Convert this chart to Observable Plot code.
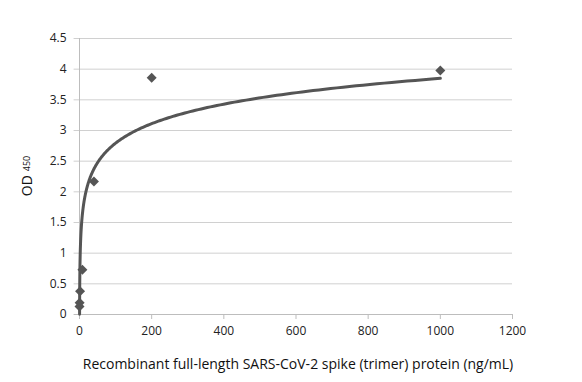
<!DOCTYPE html>
<html>
<head>
<meta charset="utf-8">
<script src="https://cdn.jsdelivr.net/npm/d3@7"></script>
<script src="https://cdn.jsdelivr.net/npm/@observablehq/plot@0.6"></script>
<style>
  html, body { margin: 0; padding: 0; background: #fff; }
  #chart svg { display: block; }
</style>
</head>
<body>
<div id="chart"></div>
<script>
// Concentrations (ng/mL) and measured OD450
const concentration = [1000, 200, 40, 8, 1.6, 0.32, 0.064];
const od450 = [3.98, 3.86, 2.17, 0.73, 0.38, 0.19, 0.13];
const xTicks = [0, 200, 400, 600, 800, 1000, 1200];
const yTicks = [0, 0.5, 1, 1.5, 2, 2.5, 3, 3.5, 4, 4.5];
const xLabel = "Recombinant full-length SARS-CoV-2 spike (trimer) protein (ng/mL)";

const points = concentration.map((c, i) => ({x: c, y: od450[i]}));

// Logarithmic trendline fitted (least squares) to the data, as in the source
const lx = points.map(p => Math.log(p.x));
const mx = d3.mean(lx), my = d3.mean(od450);
const slope = d3.sum(lx, (v, i) => (v - mx) * (od450[i] - my)) / d3.sum(lx, v => (v - mx) ** 2);
const intercept = my - slope * mx;
const [xmin, xmax] = d3.extent(concentration);
const trend = d3.range(0, 401).map(i => {
  const x = Math.exp(Math.log(xmin) + (Math.log(xmax) - Math.log(xmin)) * i / 400);
  return {x, y: slope * Math.log(x) + intercept};
}).filter(d => d.y >= 0);

const font = "'Open Sans', sans-serif";

const plot = Plot.plot({
  width: 582,
  height: 382,
  marginLeft: 79,
  marginRight: 70,
  marginTop: 38,
  marginBottom: 68,
  style: {fontFamily: font, fontSize: "12px", color: "#000", background: "#fff"},
  x: {domain: [0, 1200], ticks: xTicks, label: null},
  y: {domain: [0, 4.5], ticks: yTicks, label: null},
  marks: [
    Plot.ruleY(yTicks.filter(t => t > 0), {x1: -15, x2: 1200, stroke: "#d0d0d0", strokeWidth: 1, clip: false}),
    Plot.ruleY([0], {x1: -15, x2: 1200, stroke: "#bdbdbd", strokeWidth: 1, clip: false}),
    Plot.ruleX([0], {stroke: "#bdbdbd", strokeWidth: 1}),
    Plot.axisX({ticks: xTicks, tickSize: 5, tickPadding: 7, stroke: "#bdbdbd", fill: "#222", fontSize: 12, tickFormat: d => String(d)}),
    Plot.axisY({ticks: yTicks, tickSize: 0, tickPadding: 13, fill: "#222", fontSize: 12, tickFormat: d => String(d)}),
    Plot.line(trend, {x: "x", y: "y", stroke: "#555", strokeWidth: 3, curve: "linear"}),
    Plot.dot(points, {x: "x", y: "y", symbol: "diamond2", r: 4.5, fill: "#555", stroke: "none"}),
    Plot.text([xLabel], {frameAnchor: "bottom", dx: 2, dy: 54, fontSize: 14, fill: "#111", fontFamily: font})
  ]
});

// y-axis label with subscript
const svg = d3.select(plot);
const t = svg.append("text")
  .attr("transform", "translate(32,176) rotate(-90)")
  .attr("text-anchor", "middle")
  .attr("font-family", font)
  .attr("fill", "#111");
t.append("tspan").attr("font-size", 14).text("OD");
t.append("tspan").attr("font-size", 9).attr("dx", 4).attr("dy", -2).text("450");

document.getElementById("chart").appendChild(plot);
</script>
</body>
</html>
